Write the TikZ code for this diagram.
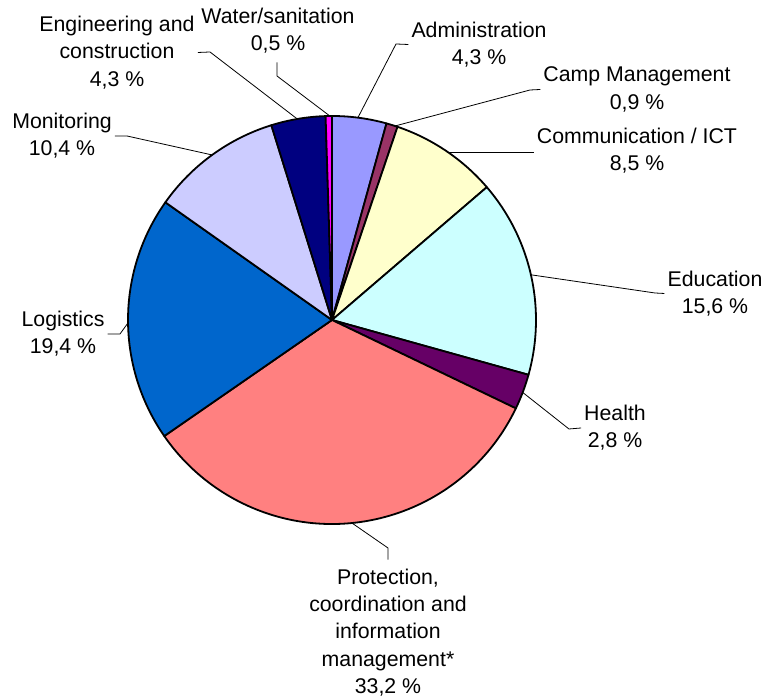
\documentclass[tikz,border=0pt]{standalone}
\usepackage{fontspec}
\setmainfont{Liberation Sans}
\usetikzlibrary{calc}
\begin{document}
\begin{tikzpicture}[x=1pt,y=1pt,
  slice/.style={draw=black,line width=1.8pt,line join=round},
  lab/.style={align=center,inner xsep=3pt,inner ysep=9pt,font=\fontsize{21.3}{27.3}\selectfont},
  leader/.style={draw=black,line width=0.8pt}]
\useasboundingbox (0,0) rectangle (766,700);
\def\R{204}
\coordinate (c) at (332,380);
\definecolor{cAdm}{HTML}{9999FF}
\definecolor{cCamp}{HTML}{993366}
\definecolor{cComm}{HTML}{FFFFCC}
\definecolor{cEdu}{HTML}{CCFFFF}
\definecolor{cHea}{HTML}{660066}
\definecolor{cPro}{HTML}{FF8080}
\definecolor{cLog}{HTML}{0066CC}
\definecolor{cMon}{HTML}{CCCCFF}
\definecolor{cEng}{HTML}{000080}
\definecolor{cWat}{HTML}{FF00FF}
\foreach \a/\b/\col in {90/74.505/cAdm, 74.505/71.261/cCamp, 71.261/40.631/cComm, 40.631/-15.586/cEdu, -15.586/-25.676/cHea, -25.676/-145.315/cPro, -145.315/-215.225/cLog, -215.225/-252.703/cMon, -252.703/-268.198/cEng, -268.198/-270/cWat}
  \filldraw[slice,fill=\col] (c) -- ++(\a:\R) arc[start angle=\a,end angle=\b,radius=\R] -- cycle;

% labels
\node[lab] (wat) at (278,669.5) {Water/sanitation\\0,5 \%};
\node[lab] (eng) at (117,647.5) {Engineering and\\construction\\4,3 \%};
\node[lab] (mon) at (62,564) {Monitoring\\10,4 \%};
\node[lab] (log) at (63,366) {Logistics\\19,4 \%};
\node[lab] (pro) at (388,67.5) {Protection,\\coordination and\\information\\management*\\33,2 \%};
\node[lab] (hea) at (615,272) {Health\\2,8 \%};
\node[lab] (edu) at (715,406.5) {Education\\15,6 \%};
\node[lab] (com) at (637,549) {Communication / ICT\\8,5 \%};
\node[lab] (cmp) at (637,610.5) {Camp Management\\0,9 \%};
\node[lab] (adm) at (479,655.5) {Administration\\4,3 \%};

% edge points
\coordinate (eWat) at ($(c)+(90.6:\R)$);
\coordinate (eEng) at ($(c)+(99.8:\R)$);
\coordinate (eMon) at ($(c)+(126:\R)$);
\coordinate (eLog) at ($(c)+(180.8:\R)$);
\coordinate (ePro) at ($(c)+(-84.4:\R)$);
\coordinate (eHea) at ($(c)+(-20.8:\R)$);
\coordinate (eEdu) at ($(c)+(12.8:\R)$);
\coordinate (eCom) at ($(c)+(55.4:\R)$);
\coordinate (eCmp) at ($(c)+(72:\R)$);
\coordinate (eAdm) at ($(c)+(82.7:\R)$);
% knees
\coordinate (kWat) at (277,624);
\coordinate (kEng) at (210,648);
\coordinate (kMon) at (127,564);
\coordinate (kLog) at (120,366);
\coordinate (kPro) at (388,152);
\coordinate (kHea) at (569,271);
\coordinate (kEdu) at (655,407);
\coordinate (kCmp) at (530,610);
\coordinate (kAdm) at (396,656);

\draw[leader] (eWat) -- (kWat) -- (kWat |- wat.south);
\draw[leader] (eEng) -- (kEng) -- (eng.east);
\draw[leader] (eMon) -- (kMon) -- (mon.east);
\draw[leader] (eLog) -- (kLog) -- (log.east);
\draw[leader] (ePro) -- (kPro) -- (kPro |- pro.north);
\draw[leader] (eHea) -- (kHea) -- (hea.west);
\draw[leader] (eEdu) -- (kEdu) -- (edu.west);
\draw[leader] (eCom) -- (eCom -| com.west);
\draw[leader] (eCmp) -- (kCmp) -- (cmp.west);
\draw[leader] (eAdm) -- (kAdm) -- (adm.west);
\end{tikzpicture}
\end{document}
